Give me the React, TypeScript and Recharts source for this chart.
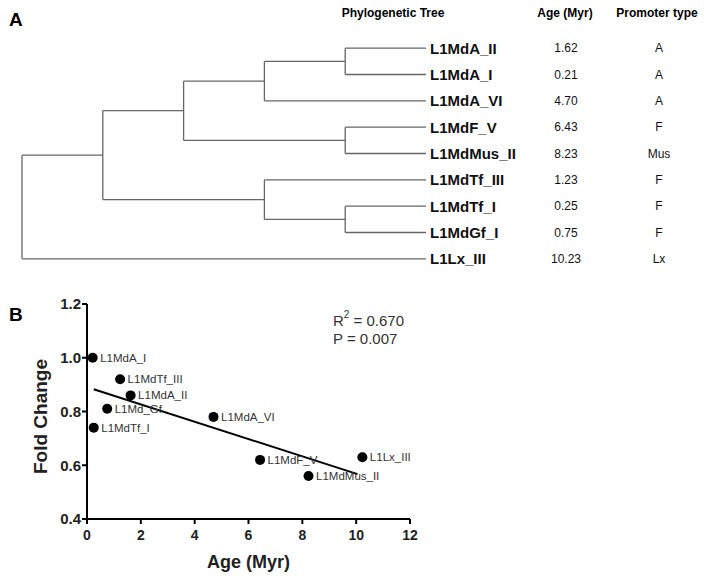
import React from 'react';
import {
  ComposedChart,
  ScatterChart,
  Scatter,
  XAxis,
  YAxis,
  ReferenceLine,
  LabelList,
} from 'recharts';

// leaf rows of the tree, top to bottom (same order as the table)
const leafNames = ['L1MdA_II', 'L1MdA_I', 'L1MdA_VI', 'L1MdF_V', 'L1MdMus_II', 'L1MdTf_III', 'L1MdTf_I', 'L1MdGf_I', 'L1Lx_III'];
const ages = [1.62, 0.21, 4.7, 6.43, 8.23, 1.23, 0.25, 0.75, 10.23];
const promoterTypes = ['A', 'A', 'A', 'F', 'Mus', 'F', 'F', 'F', 'Lx'];

// nested clades, leaves given by their row index
const treeTopology: any = [[[[[0, 1], 2], [3, 4]], [5, [6, 7]]], 8];

// panel B
const foldChange = [0.86, 1.0, 0.78, 0.62, 0.56, 0.92, 0.74, 0.81, 0.63];
const pointLabels = ['L1MdA_II', 'L1MdA_I', 'L1MdA_VI', 'L1MdF_V', 'L1MdMus_II', 'L1MdTf_III', 'L1MdTf_I', 'L1Md_Gf', 'L1Lx_III'];
const fitLine = [{ x: 0.25, y: 0.883 }, { x: 10.05, y: 0.567 }];
const xTicks = [0, 2, 4, 6, 8, 10, 12];
const yTicks = [0.4, 0.6, 0.8, 1.0, 1.2];

const FONT = '"Liberation Sans", Arial, Helvetica, sans-serif';

type Seg = { x1: number; y1: number; x2: number; y2: number };

// cladogram layout: x = level (root 0, leaves at max height), y = row
function layoutTree(topology: any) {
  const segs: Seg[] = [];
  const height = (n: any): number => (Array.isArray(n) ? 1 + Math.max(...n.map(height)) : 0);
  const maxH = height(topology);
  const place = (n: any): { x: number; y: number } => {
    if (!Array.isArray(n)) return { x: maxH, y: n };
    const kids = n.map(place);
    const x = maxH - height(n);
    const ys = kids.map((k: any) => k.y);
    const y = (Math.min(...ys) + Math.max(...ys)) / 2;
    segs.push({ x1: x, y1: Math.min(...ys), x2: x, y2: Math.max(...ys) });
    kids.forEach((k: any) => segs.push({ x1: x, y1: k.y, x2: k.x, y2: k.y }));
    return { x, y };
  };
  place(topology);
  return { segs, maxH };
}

const { segs, maxH } = layoutTree(treeTopology);
const rowTicks = leafNames.map((_, i) => i);
const leafPoints = leafNames.map((_, i) => ({ x: maxH, y: i }));
const scatterData = ages.map((a, i) => ({ x: a, y: foldChange[i], name: pointLabels[i] }));

const colTick = (labels: string[], anchor: 'start' | 'middle', size: number, weight: string) =>
  (p: any) => (
    <text x={p.x} y={p.y} dy="0.36em" textAnchor={anchor} fontSize={size} fontWeight={weight} fill="#111" fontFamily={FONT}>
      {labels[p.payload.value]}
    </text>
  );

const abs = (left: number, top: number, extra: React.CSSProperties = {}): React.CSSProperties => ({
  position: 'absolute', left, top, fontFamily: FONT, whiteSpace: 'nowrap', lineHeight: 1, ...extra,
});

const hidden = () => <g />;

export default function App() {
  return (
    <div style={{ position: 'absolute', left: 0, top: 0, width: 704, height: 578, background: '#fff', fontFamily: FONT }}>
      <div style={abs(9, 10, { fontSize: 19, fontWeight: 'bold' })}>A</div>
      <div style={abs(393, 7, { fontSize: 12, fontWeight: 'bold', transform: 'translateX(-50%)' })}>Phylogenetic Tree</div>
      <div style={abs(565, 7, { fontSize: 12, fontWeight: 'bold', transform: 'translateX(-50%)' })}>Age (Myr)</div>
      <div style={abs(657, 7, { fontSize: 12, fontWeight: 'bold', transform: 'translateX(-50%)' })}>Promoter type</div>

      <div style={{ position: 'absolute', left: 0, top: 0 }}>
        <ComposedChart width={704} height={290} margin={{ top: 35, right: 0, left: 22, bottom: 18 }}>
          <XAxis type="number" dataKey="x" domain={[0, maxH]} hide />
          <YAxis yAxisId="a" orientation="right" type="number" dataKey="y" domain={[-0.5, 8.5]} reversed
            ticks={rowTicks} interval={0} width={140} axisLine={false} tickLine={false} tickSize={0} tickMargin={4}
            tick={colTick(leafNames, 'start', 15, 'bold')} />
          <YAxis yAxisId="b" orientation="right" type="number" dataKey="y" domain={[-0.5, 8.5]} reversed
            ticks={rowTicks} interval={0} width={93} axisLine={false} tickLine={false} tickSize={0} tickMargin={0}
            tick={colTick(ages.map((a) => a.toFixed(2)), 'middle', 12, 'normal')} />
          <YAxis yAxisId="c" orientation="right" type="number" dataKey="y" domain={[-0.5, 8.5]} reversed
            ticks={rowTicks} interval={0} width={45} axisLine={false} tickLine={false} tickSize={0} tickMargin={0}
            tick={colTick(promoterTypes, 'middle', 12, 'normal')} />
          <Scatter yAxisId="a" data={leafPoints} fill="none" shape={hidden} isAnimationActive={false} />
          <Scatter yAxisId="b" data={leafPoints} fill="none" shape={hidden} isAnimationActive={false} />
          <Scatter yAxisId="c" data={leafPoints} fill="none" shape={hidden} isAnimationActive={false} />
          {segs.map((s, i) => (
            <ReferenceLine key={i} yAxisId="a" segment={[{ x: s.x1, y: s.y1 }, { x: s.x2, y: s.y2 }]}
              stroke="#666" strokeWidth={1.3} ifOverflow="visible" />
          ))}
        </ComposedChart>
      </div>

      <div style={abs(9, 305, { fontSize: 19, fontWeight: 'bold' })}>B</div>
      <div style={abs(333, 313, { fontSize: 15, color: '#333' })}>
        R<sup style={{ fontSize: 10, verticalAlign: 'top', position: 'relative', top: -3 }}>2</sup> = 0.670
      </div>
      <div style={abs(333, 331, { fontSize: 15, color: '#333' })}>P = 0.007</div>

      <div style={{ position: 'absolute', left: 0, top: 290 }}>
        <ScatterChart width={704} height={288} margin={{ top: 14, right: 294, left: 0, bottom: 0 }}>
          <XAxis type="number" dataKey="x" domain={[0, 12]} ticks={xTicks} interval={0} height={59}
            axisLine={{ stroke: '#000', strokeWidth: 2 }} tickLine={{ stroke: '#000', strokeWidth: 2 }}
            tickSize={5} tickMargin={6}
            tick={{ fontSize: 14, fontWeight: 'bold', fill: '#222', fontFamily: FONT }}
            label={{ value: 'Age (Myr)', position: 'insideBottom', offset: 10, fontSize: 18, fontWeight: 'bold', fill: '#222', fontFamily: FONT }} />
          <YAxis type="number" dataKey="y" domain={[0.4, 1.2]} ticks={yTicks} interval={0} width={87}
            axisLine={{ stroke: '#000', strokeWidth: 2 }} tickLine={{ stroke: '#000', strokeWidth: 2 }}
            tickSize={5} tickMargin={1} tickFormatter={(v: number) => v.toFixed(1)}
            tick={{ fontSize: 15, fontWeight: 'bold', fill: '#222', fontFamily: FONT }}
            label={{ value: 'Fold Change', angle: -90, position: 'center', dx: -3, dy: 5, fontSize: 19, fontWeight: 'bold', fill: '#222', fontFamily: FONT }} />
          <Scatter data={scatterData} isAnimationActive={false}
            shape={(p: any) => <circle cx={p.cx} cy={p.cy} r={5} fill="#000" />}>
            <LabelList dataKey="name" position="right" offset={3} fontSize={11.5} fill="#333" fontFamily={FONT} />
          </Scatter>
          <ReferenceLine segment={fitLine} stroke="#fff" strokeWidth={4} ifOverflow="visible" />
          <ReferenceLine segment={fitLine} stroke="#000" strokeWidth={2} ifOverflow="visible" />
        </ScatterChart>
      </div>
    </div>
  );
}
